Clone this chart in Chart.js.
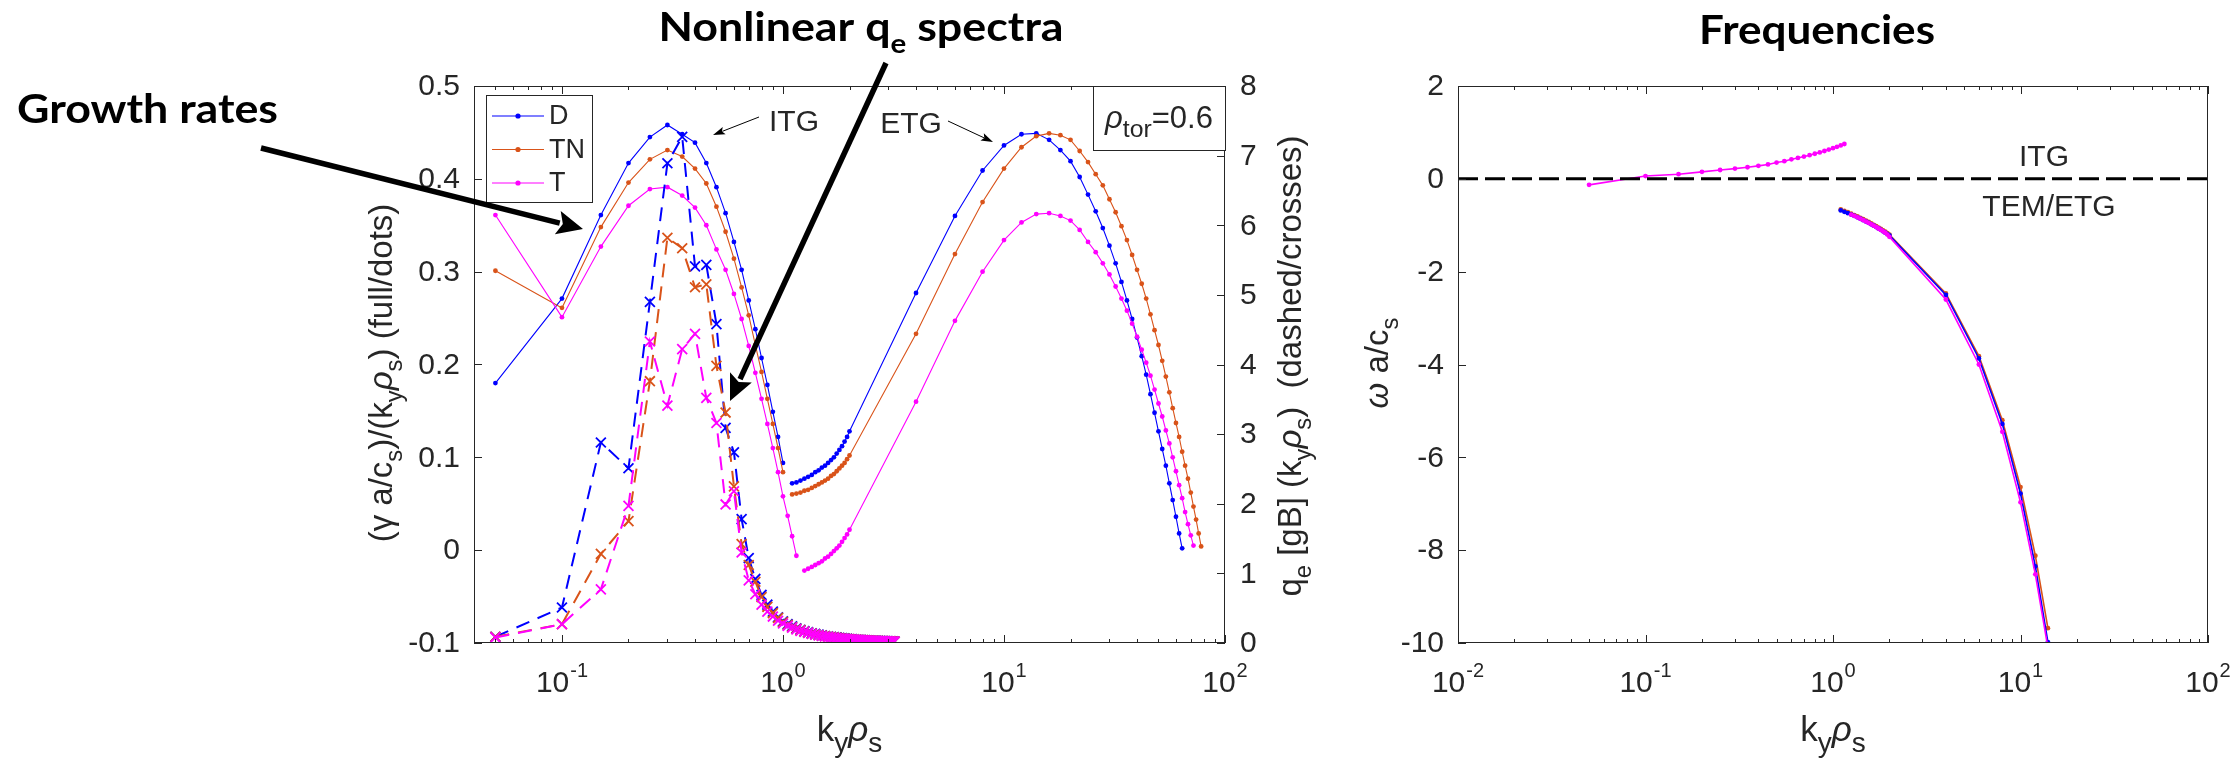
<!DOCTYPE html>
<html>
<head>
<meta charset="utf-8">
<script src="https://cdn.jsdelivr.net/npm/chart.js@4.4.1/dist/chart.umd.min.js"></script>
<style>
  html, body { margin: 0; padding: 0; background: #fff; }
  #wrap { position: relative; width: 2240px; height: 759px; overflow: hidden; background: #fff; }
  canvas { position: absolute; top: 0; }
  #left { left: 0; }
  #right { left: 1340px; }
</style>
</head>
<body>
<div id="wrap">
  <canvas id="left" width="1340" height="759"></canvas>
  <canvas id="right" width="900" height="759"></canvas>
</div>
<script>
// --- Data ---
// ITG branch wavenumbers
const kITG = [0.05, 0.1, 0.15, 0.2, 0.25, 0.3, 0.35, 0.4, 0.45, 0.5, 0.55, 0.6, 0.65, 0.7, 0.75, 0.8, 0.85, 0.9, 0.95, 1.0];
const kITG_T = [0.05, 0.1, 0.15, 0.2, 0.25, 0.3, 0.35, 0.4, 0.45, 0.5, 0.55, 0.6, 0.65, 0.7, 0.75, 0.8, 0.85, 0.9, 0.95, 1.0, 1.05, 1.1, 1.15];
// ETG branch wavenumbers
const kETG = [1.1, 1.15, 1.2, 1.25, 1.3, 1.35, 1.4, 1.45, 1.5, 1.55, 1.6, 1.65, 1.7, 1.75, 1.8, 1.85, 1.9, 1.95, 2.0,
  4, 6, 8, 10, 12, 14, 16, 18, 20, 22, 24, 26, 28, 30, 32, 34, 36, 38, 40, 42, 44, 46, 48, 50, 52, 54, 56, 58, 60, 62, 64, 66, 68, 70, 72, 74, 76, 78];
const kETG_T = [1.25, 1.3, 1.35, 1.4, 1.45, 1.5, 1.55, 1.6, 1.65, 1.7, 1.75, 1.8, 1.85, 1.9, 1.95, 2.0,
  4, 6, 8, 10, 12, 14, 16, 18, 20, 22, 24, 26, 28, 30, 32, 34, 36, 38, 40, 42, 44, 46, 48, 50, 52, 54, 56, 58, 60, 62, 64, 66, 68, 70, 72];

// growth rates (gamma a/cs)/(ky rho_s), left axis
const gammaD_ITG = [0.180, 0.271, 0.361, 0.417, 0.445, 0.458, 0.448, 0.439, 0.417, 0.391, 0.363, 0.332, 0.302, 0.269, 0.238, 0.207, 0.178, 0.149, 0.122, 0.094];
const gammaTN_ITG = [0.301, 0.261, 0.348, 0.396, 0.421, 0.431, 0.424, 0.411, 0.395, 0.370, 0.343, 0.314, 0.283, 0.253, 0.221, 0.192, 0.163, 0.136, 0.110, 0.084];
const gammaT_ITG = [0.361, 0.251, 0.327, 0.371, 0.389, 0.391, 0.382, 0.369, 0.350, 0.324, 0.302, 0.276, 0.249, 0.220, 0.191, 0.163, 0.136, 0.110, 0.084, 0.058, 0.037, 0.015, -0.006];

const gammaD_ETG = [0.072, 0.073, 0.075, 0.077, 0.079, 0.081, 0.084, 0.086, 0.089, 0.091, 0.094, 0.097, 0.100, 0.104, 0.108, 0.112, 0.117, 0.122, 0.128,
  0.277, 0.360, 0.409, 0.436, 0.448, 0.449, 0.442, 0.431, 0.419, 0.402, 0.383, 0.365, 0.347, 0.328, 0.309, 0.289, 0.269, 0.249, 0.229, 0.209, 0.189, 0.168, 0.148, 0.128, 0.109, 0.091, 0.072, 0.054, 0.036, 0.018, 0.002];
const gammaTN_ETG = [0.060, 0.061, 0.062, 0.064, 0.065, 0.067, 0.069, 0.071, 0.073, 0.075, 0.077, 0.080, 0.082, 0.085, 0.088, 0.091, 0.094, 0.098, 0.102,
  0.233, 0.319, 0.375, 0.411, 0.434, 0.446, 0.449, 0.447, 0.442, 0.430, 0.418, 0.405, 0.393, 0.378, 0.364, 0.349, 0.334, 0.318, 0.302, 0.287, 0.271, 0.254, 0.237, 0.221, 0.204, 0.187, 0.170, 0.153, 0.137, 0.122, 0.106, 0.091, 0.077, 0.062, 0.047, 0.033, 0.018, 0.004];
const gammaT_ETG = [-0.022, -0.020, -0.018, -0.016, -0.014, -0.012, -0.009, -0.007, -0.004, -0.001, 0.002, 0.005, 0.009, 0.013, 0.017, 0.022,
  0.160, 0.247, 0.300, 0.334, 0.353, 0.362, 0.363, 0.360, 0.355, 0.345, 0.332, 0.321, 0.309, 0.297, 0.284, 0.271, 0.258, 0.244, 0.230, 0.216, 0.202, 0.188, 0.173, 0.158, 0.144, 0.129, 0.115, 0.100, 0.085, 0.070, 0.056, 0.041, 0.028, 0.016, 0.005];

// nonlinear q_e spectra [gB](ky rho_s), right axis
const kQ = [0.05, 0.1, 0.15, 0.2, 0.25, 0.3, 0.35, 0.4, 0.45, 0.5, 0.55, 0.6, 0.65, 0.7, 0.75, 0.8, 0.85, 0.9, 0.95, 1.0,
  1.05, 1.1, 1.15, 1.2, 1.25, 1.3, 1.35, 1.4, 1.45, 1.5, 1.55, 1.6, 1.65, 1.7, 1.75, 1.8, 1.85, 1.9, 1.95, 2.0,
  2.05, 2.1, 2.15, 2.2, 2.25, 2.3, 2.35, 2.4, 2.45, 2.5, 2.55, 2.6, 2.65, 2.7, 2.75, 2.8, 2.85, 2.9, 2.95, 3.0, 3.05, 3.1, 3.15, 3.2];
const qD = [0.09, 0.51, 2.88, 2.51, 4.90, 6.89, 7.27, 5.41, 5.43, 4.58, 3.09, 2.74, 1.78, 1.22, 0.92, 0.69, 0.55, 0.45, 0.37, 0.31,
  0.27, 0.24, 0.21, 0.19, 0.17, 0.155, 0.14, 0.13, 0.12, 0.11, 0.10, 0.095, 0.09, 0.085, 0.08, 0.075, 0.07, 0.066, 0.062, 0.058,
  0.055, 0.052, 0.05, 0.047, 0.045, 0.043, 0.041, 0.039, 0.037, 0.036, 0.034, 0.033, 0.032, 0.031, 0.03, 0.029, 0.028, 0.027, 0.026, 0.025, 0.024, 0.024, 0.023, 0.022];
const qTN = [0.09, 0.27, 1.28, 1.75, 3.76, 5.82, 5.67, 5.11, 5.15, 3.98, 3.31, 2.25, 1.42, 1.12, 0.88, 0.66, 0.52, 0.43, 0.36, 0.30,
  0.26, 0.23, 0.205, 0.185, 0.165, 0.15, 0.135, 0.125, 0.115, 0.105, 0.098, 0.092, 0.087, 0.082, 0.077, 0.072, 0.068, 0.064, 0.06, 0.057,
  0.054, 0.051, 0.048, 0.046, 0.044, 0.042, 0.04, 0.038, 0.036, 0.035, 0.033, 0.032, 0.031, 0.03, 0.029, 0.028, 0.027, 0.026, 0.025, 0.024, 0.023, 0.023, 0.022, 0.021];
const qT = [0.08, 0.27, 0.77, 1.97, 4.33, 3.41, 4.22, 4.44, 3.52, 3.16, 1.99, 2.18, 1.30, 0.90, 0.70, 0.55, 0.45, 0.38, 0.32, 0.28,
  0.245, 0.22, 0.195, 0.175, 0.16, 0.145, 0.13, 0.12, 0.11, 0.10, 0.093, 0.087, 0.082, 0.077, 0.072, 0.068, 0.064, 0.06, 0.057, 0.054,
  0.051, 0.048, 0.046, 0.044, 0.042, 0.04, 0.038, 0.036, 0.035, 0.033, 0.032, 0.031, 0.03, 0.029, 0.028, 0.027, 0.026, 0.025, 0.024, 0.023, 0.023, 0.022, 0.021, 0.02];

// frequencies omega a/cs
const kFreqITG = [0.05, 0.1, 0.15, 0.2, 0.25, 0.3, 0.35, 0.4, 0.45, 0.5, 0.55, 0.6, 0.65, 0.7, 0.75, 0.8, 0.85, 0.9, 0.95, 1.0, 1.05, 1.1, 1.15];
const omegaT_ITG = [-0.13, 0.06, 0.10, 0.15, 0.19, 0.22, 0.25, 0.28, 0.31, 0.35, 0.38, 0.42, 0.45, 0.48, 0.51, 0.54, 0.57, 0.60, 0.63, 0.66, 0.69, 0.72, 0.75];
const kFreqETG = [1.1, 1.15, 1.2, 1.25, 1.3, 1.35, 1.4, 1.45, 1.5, 1.55, 1.6, 1.65, 1.7, 1.75, 1.8, 1.85, 1.9, 1.95, 2.0, 4, 6, 8, 10, 12, 14];
const kFreqETG_T = [1.25, 1.3, 1.35, 1.4, 1.45, 1.5, 1.55, 1.6, 1.65, 1.7, 1.75, 1.8, 1.85, 1.9, 1.95, 2.0, 4, 6, 8, 10, 12, 14];
const omegaD_ETG = [-0.68, -0.71, -0.74, -0.77, -0.80, -0.83, -0.86, -0.89, -0.92, -0.95, -0.98, -1.01, -1.04, -1.07, -1.10, -1.13, -1.16, -1.19, -1.22, -2.50, -3.87, -5.28, -6.78, -8.35, -9.98];
const omegaTN_ETG = [-0.66, -0.69, -0.72, -0.75, -0.78, -0.81, -0.84, -0.87, -0.90, -0.93, -0.96, -0.99, -1.02, -1.05, -1.08, -1.11, -1.14, -1.17, -1.20, -2.47, -3.82, -5.20, -6.64, -8.12, -9.68];
const omegaT_ETG = [-0.77, -0.80, -0.83, -0.86, -0.89, -0.92, -0.95, -0.98, -1.01, -1.04, -1.07, -1.10, -1.13, -1.16, -1.20, -1.25, -2.60, -4.00, -5.45, -6.97, -8.52, -10.1];
const zeroLineK = [0.01, 100];
const zeroLineW = [0, 0];

// tick labels
const gammaTicks = [-0.1, 0, 0.1, 0.2, 0.3, 0.4, 0.5];
const gammaTickLabels = ['-0.1', '0', '0.1', '0.2', '0.3', '0.4', '0.5'];
const qTicks = [0, 1, 2, 3, 4, 5, 6, 7, 8];
const omegaTicks = [-10, -8, -6, -4, -2, 0, 2];
const leftDecades = [-1, 0, 1, 2];
const rightDecades = [-2, -1, 0, 1, 2];

const seriesNames = ['D', 'TN', 'T'];
const BLUE = '#0000ff', ORANGE = '#d95319', PINK = '#ff00ff';
const INK = '#262626';
const SANS = '"Liberation Sans", Arial, Helvetica, sans-serif';

// --- Helpers ---
const zip = (ks, vs) => vs.map((v, i) => ({ x: ks[i], y: v }));

function dotLine(label, ks, vs, color, opts = {}) {
  return Object.assign({
    label, data: zip(ks, vs), borderColor: color, backgroundColor: color,
    borderWidth: 1.1, pointRadius: 2.4, pointHoverRadius: 0, pointStyle: 'circle',
    pointBorderWidth: 0, pointBackgroundColor: color, tension: 0, fill: false
  }, opts);
}

function crossLine(label, ks, vs, color, order) {
  return {
    label, data: zip(ks, vs), yAxisID: 'y2', borderColor: color, backgroundColor: color,
    borderWidth: 2, borderDash: [14, 9], pointStyle: 'crossRot', pointRadius: 7,
    pointBorderColor: color, pointBorderWidth: 1.8, tension: 0, fill: false, order
  };
}

// rich text: segs = [[text, mode, italic]] mode 0 normal, 1 sub, 2 sup
function drawRich(ctx, segs, x, y, size, align = 'center', weight = '', family = SANS, subScale = 0.72) {
  let total = 0;
  const parts = segs.map(([t, m = 0, it = false]) => {
    const s = m ? size * subScale : size;
    const f = `${it ? 'italic ' : ''}${weight} ${s}px ${family}`;
    ctx.font = f;
    const w = ctx.measureText(t).width;
    total += w;
    return { t, m, f, w };
  });
  let cx = align === 'center' ? x - total / 2 : align === 'right' ? x - total : x;
  ctx.textAlign = 'left';
  ctx.textBaseline = 'alphabetic';
  parts.forEach(p => {
    ctx.font = p.f;
    const dy = p.m === 1 ? size * 0.3 : p.m === 2 ? -size * 0.48 : 0;
    ctx.fillText(p.t, cx, y + dy);
    cx += p.w;
  });
  return total;
}

function drawRotated(ctx, segs, x, y, size) {
  ctx.save();
  ctx.translate(x, y);
  ctx.rotate(-Math.PI / 2);
  drawRich(ctx, segs, 0, 0, size);
  ctx.restore();
}

function drawTitle(ctx, segs, cx, base, targetW) {
  ctx.save();
  let w = 0;
  segs.forEach(([t, m]) => { ctx.font = `bold ${m ? 27 : 41}px Lato, sans-serif`; w += ctx.measureText(t).width; });
  ctx.translate(cx, base);
  ctx.scale(targetW / w, 1);
  ctx.fillStyle = '#000';
  drawRich(ctx, segs, 0, 0, 41, 'center', 'bold', 'Lato, sans-serif', 0.66);
  ctx.restore();
}

function arrow(ctx, x1, y1, x2, y2, lw, headLen, headW) {
  const ang = Math.atan2(y2 - y1, x2 - x1);
  const ux = Math.cos(ang), uy = Math.sin(ang);
  const bx = x2 - ux * headLen, by = y2 - uy * headLen;
  ctx.save();
  ctx.strokeStyle = '#000';
  ctx.fillStyle = '#000';
  ctx.lineWidth = lw;
  ctx.beginPath();
  ctx.moveTo(x1, y1);
  ctx.lineTo(bx + ux * 2, by + uy * 2);
  ctx.stroke();
  ctx.beginPath();
  ctx.moveTo(x2, y2);
  ctx.lineTo(bx - uy * headW / 2, by + ux * headW / 2);
  ctx.lineTo(bx + ux * headLen * 0.2, by + uy * headLen * 0.2);
  ctx.lineTo(bx + uy * headW / 2, by - ux * headW / 2);
  ctx.closePath();
  ctx.fill();
  ctx.restore();
}

function drawPow(ctx, exp, x, base) {
  ctx.font = `30px ${SANS}`;
  const w1 = ctx.measureText('10').width;
  ctx.font = `20px ${SANS}`;
  const w2 = ctx.measureText(exp).width;
  const left = x - (w1 + w2 + 1) / 2;
  ctx.textAlign = 'left';
  ctx.textBaseline = 'alphabetic';
  ctx.font = `30px ${SANS}`;
  ctx.fillText('10', left, base);
  ctx.font = `20px ${SANS}`;
  ctx.fillText(exp, left + w1 + 1, base - 15);
}

// box, inward ticks and decade labels of a log x axis
function drawLogFrame(ctx, chart, decades) {
  const a = chart.chartArea, sx = chart.scales.x;
  ctx.strokeStyle = INK;
  ctx.lineWidth = 1;
  ctx.strokeRect(Math.round(a.left) + 0.5, Math.round(a.top) + 0.5, Math.round(a.right - a.left) - 1, Math.round(a.bottom - a.top) - 1);
  const lo = sx.min, hi = sx.max;
  ctx.beginPath();
  for (let d = decades[0] - 1; d <= decades[decades.length - 1]; d++) {
    for (let m = 1; m <= 9; m++) {
      const v = m * Math.pow(10, d);
      if (v < lo * 0.999 || v > hi * 1.001) continue;
      const px = Math.round(sx.getPixelForValue(v)) + 0.5;
      const len = m === 1 ? 8 : 4;
      ctx.moveTo(px, a.bottom); ctx.lineTo(px, a.bottom - len);
      ctx.moveTo(px, a.top); ctx.lineTo(px, a.top + len);
    }
  }
  ctx.stroke();
  ctx.fillStyle = INK;
  decades.forEach(d => drawPow(ctx, String(d), sx.getPixelForValue(Math.pow(10, d)), 692));
}

function drawYTicks(ctx, scale, ticks, labels, side, area) {
  ctx.strokeStyle = INK;
  ctx.lineWidth = 1;
  ctx.beginPath();
  ticks.forEach(v => {
    const py = Math.round(scale.getPixelForValue(v)) + 0.5;
    if (side === 'left') { ctx.moveTo(area.left, py); ctx.lineTo(area.left + 8, py); }
    else { ctx.moveTo(area.right, py); ctx.lineTo(area.right - 8, py); }
  });
  ctx.stroke();
  ctx.fillStyle = INK;
  ctx.font = `30px ${SANS}`;
  ctx.textBaseline = 'middle';
  ticks.forEach((v, i) => {
    const py = scale.getPixelForValue(v);
    if (side === 'left') { ctx.textAlign = 'right'; ctx.fillText(labels[i], area.left - 14, py + 1); }
    else { ctx.textAlign = 'left'; ctx.fillText(labels[i], area.right + 15, py + 1); }
  });
}

// --- Left panel: growth rates + q_e spectra ---
const leftDecor = {
  id: 'leftDecor',
  afterDraw(chart) {
    const ctx = chart.ctx, a = chart.chartArea;
    ctx.save();
    drawLogFrame(ctx, chart, leftDecades);
    drawYTicks(ctx, chart.scales.y, gammaTicks, gammaTickLabels, 'left', a);
    drawYTicks(ctx, chart.scales.y2, qTicks, qTicks.map(String), 'right', a);

    ctx.fillStyle = INK;
    drawRich(ctx, [['k'], ['y', 1], ['ρ', 0, true], ['s', 1]], (a.left + a.right) / 2, 741, 35, 'center', '', SANS, 0.8);
    drawRotated(ctx, [['(γ a/c'], ['s', 1], [')/(k'], ['y', 1], ['ρ', 0, true], ['s', 1], [') (full/dots)']], 392, 373, 33);
    drawRotated(ctx, [['q'], ['e', 1], [' [gB] (k'], ['y', 1], ['ρ', 0, true], ['s', 1], [')  (dashed/crosses)']], 1301, 366, 33);

    // legend
    ctx.fillStyle = '#fff';
    ctx.fillRect(486, 95, 106, 107);
    ctx.strokeStyle = INK;
    ctx.lineWidth = 1;
    ctx.strokeRect(486.5, 95.5, 106, 107);
    [BLUE, ORANGE, PINK].forEach((c, i) => {
      const y = 116 + i * 33.5;
      ctx.strokeStyle = c; ctx.lineWidth = 1.1;
      ctx.beginPath(); ctx.moveTo(492, y); ctx.lineTo(544, y); ctx.stroke();
      ctx.fillStyle = c;
      ctx.beginPath(); ctx.arc(518, y, 2.6, 0, Math.PI * 2); ctx.fill();
      ctx.fillStyle = INK;
      ctx.font = `27px ${SANS}`;
      ctx.textAlign = 'left'; ctx.textBaseline = 'middle';
      ctx.fillText(seriesNames[i], 549, y + 1);
    });

    // rho_tor box
    ctx.fillStyle = '#fff';
    ctx.fillRect(1093, 86, 132, 64);
    ctx.strokeStyle = INK; ctx.lineWidth = 1;
    ctx.strokeRect(1093.5, 86.5, 132, 64);
    ctx.fillStyle = INK;
    drawRich(ctx, [['ρ', 0, true], ['tor', 1], ['=0.6']], 1159, 128, 31, 'center', '', SANS, 0.8);

    // annotations
    ctx.font = `30px ${SANS}`;
    ctx.textAlign = 'center'; ctx.textBaseline = 'alphabetic';
    ctx.fillText('ITG', 794, 131);
    ctx.fillText('ETG', 911, 133);
    arrow(ctx, 759, 117, 713, 135, 1, 12, 8);
    arrow(ctx, 948, 121, 993, 142, 1, 12, 8);

    // big arrows and titles
    arrow(ctx, 261, 148, 583, 229, 5.5, 26, 24);
    arrow(ctx, 886, 63, 730, 401, 5.5, 26, 24);
    drawTitle(ctx, [['Growth rates']], 147.5, 123, 261);
    drawTitle(ctx, [['Nonlinear q'], ['e', 1], [' spectra']], 861, 41, 405);
    ctx.restore();
  }
};

new Chart(document.getElementById('left'), {
  type: 'line',
  data: {
    datasets: [
      crossLine('q T', kQ, qT, PINK, 0),
      crossLine('q TN', kQ, qTN, ORANGE, 1),
      crossLine('q D', kQ, qD, BLUE, 2),
      dotLine('T', kITG_T, gammaT_ITG, PINK, { order: 3 }),
      dotLine('T etg', kETG_T, gammaT_ETG, PINK, { order: 3 }),
      dotLine('TN', kITG, gammaTN_ITG, ORANGE, { order: 4 }),
      dotLine('TN etg', kETG, gammaTN_ETG, ORANGE, { order: 4 }),
      dotLine('D', kITG, gammaD_ITG, BLUE, { order: 5 }),
      dotLine('D etg', kETG, gammaD_ETG, BLUE, { order: 5 })
    ]
  },
  options: {
    responsive: false,
    animation: false,
    events: [],
    layout: { padding: { left: 474, right: 115, top: 86, bottom: 116 } },
    scales: {
      x: { type: 'logarithmic', min: 0.04, max: 100, display: false },
      y: { type: 'linear', min: -0.1, max: 0.5, display: false },
      y2: { type: 'linear', min: 0, max: 8, display: false, position: 'right' }
    },
    plugins: { legend: { display: false }, tooltip: { enabled: false } }
  },
  plugins: [leftDecor]
});

// --- Right panel: frequencies ---
const rightDecor = {
  id: 'rightDecor',
  afterDraw(chart) {
    const ctx = chart.ctx, a = chart.chartArea;
    ctx.save();
    drawLogFrame(ctx, chart, rightDecades);
    drawYTicks(ctx, chart.scales.y, omegaTicks, omegaTicks.map(String), 'left', a);
    ctx.fillStyle = INK;
    drawRich(ctx, [['k'], ['y', 1], ['ρ', 0, true], ['s', 1]], (a.left + a.right) / 2, 741, 35, 'center', '', SANS, 0.8);
    drawRotated(ctx, [['ω', 0, true], [' a/c'], ['s', 1]], 48, 363, 33);
    ctx.font = `30px ${SANS}`;
    ctx.textAlign = 'center'; ctx.textBaseline = 'alphabetic';
    ctx.fillText('ITG', 704, 166);
    ctx.fillText('TEM/ETG', 709, 216);
    drawTitle(ctx, [['Frequencies']], 477, 44, 236);
    ctx.restore();
  }
};

new Chart(document.getElementById('right'), {
  type: 'line',
  data: {
    datasets: [
      dotLine('T', kFreqITG, omegaT_ITG, PINK, { order: 1, borderWidth: 1.6 }),
      dotLine('T etg', kFreqETG_T, omegaT_ETG, PINK, { order: 1, borderWidth: 1.6 }),
      dotLine('D etg', kFreqETG, omegaD_ETG, BLUE, { order: 2, borderWidth: 1.6 }),
      dotLine('TN etg', kFreqETG, omegaTN_ETG, ORANGE, { order: 3, borderWidth: 1.6 }),
      {
        label: 'zero', data: zip(zeroLineK, zeroLineW), borderColor: '#000', borderWidth: 3,
        borderDash: [20, 7], pointRadius: 0, fill: false, order: 0
      }
    ]
  },
  options: {
    responsive: false,
    animation: false,
    events: [],
    layout: { padding: { left: 118, right: 32, top: 86, bottom: 116 } },
    scales: {
      x: { type: 'logarithmic', min: 0.01, max: 100, display: false },
      y: { type: 'linear', min: -10, max: 2, display: false }
    },
    plugins: { legend: { display: false }, tooltip: { enabled: false } }
  },
  plugins: [rightDecor]
});
</script>
</body>
</html>
